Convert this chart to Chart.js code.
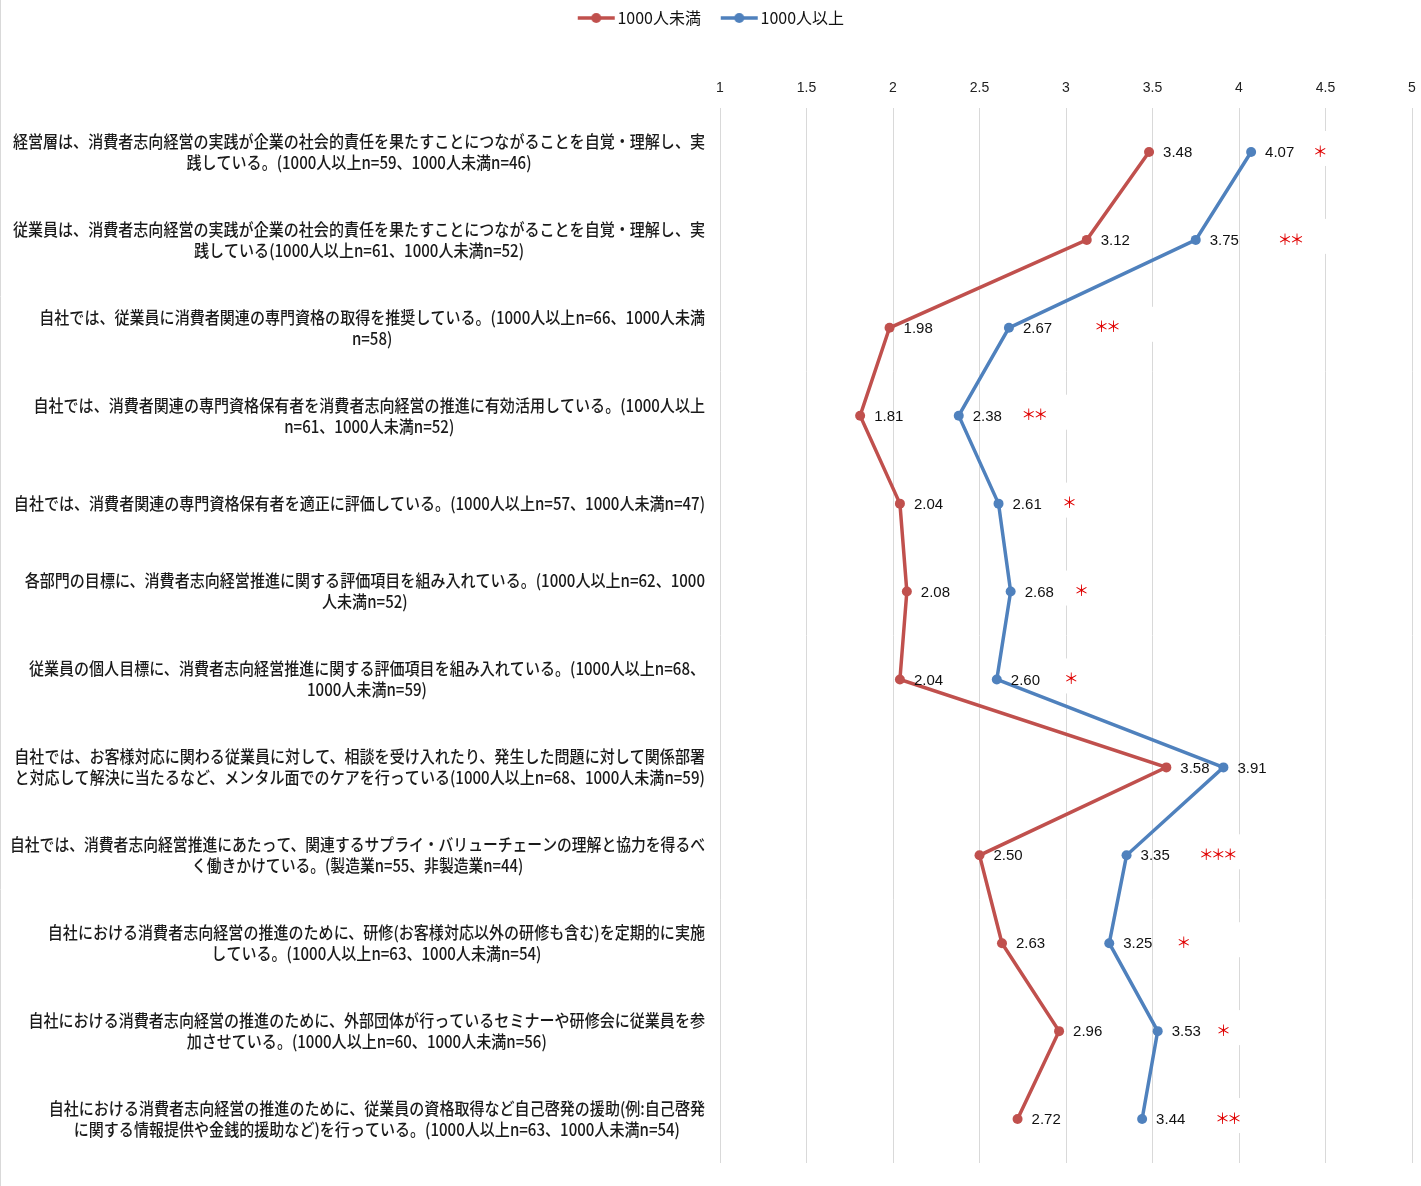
<!DOCTYPE html>
<html>
<head>
<meta charset="utf-8">
<title>消費者志向経営の取組状況（企業規模別）</title>
<script src="https://cdn.jsdelivr.net/npm/chart.js@4.4.1/dist/chart.umd.min.js"></script>
<style>
  html, body { margin: 0; padding: 0; background: #ffffff; }
  #wrap { width: 1421px; height: 1186px; position: relative; }
</style>
</head>
<body>
<div id="wrap"><canvas id="chart" width="1421" height="1186"></canvas></div>
<script>
// ---- data ----
const categories = [
  ['経営層は、消費者志向経営の実践が企業の社会的責任を果たすことにつながることを自覚・理解し、実', '践している。(1000人以上n=59、1000人未満n=46)'],
  ['従業員は、消費者志向経営の実践が企業の社会的責任を果たすことにつながることを自覚・理解し、実', '践している(1000人以上n=61、1000人未満n=52)'],
  ['自社では、従業員に消費者関連の専門資格の取得を推奨している。(1000人以上n=66、1000人未満', 'n=58)'],
  ['自社では、消費者関連の専門資格保有者を消費者志向経営の推進に有効活用している。(1000人以上', 'n=61、1000人未満n=52)'],
  ['自社では、消費者関連の専門資格保有者を適正に評価している。(1000人以上n=57、1000人未満n=47)'],
  ['各部門の目標に、消費者志向経営推進に関する評価項目を組み入れている。(1000人以上n=62、1000', '人未満n=52)'],
  ['従業員の個人目標に、消費者志向経営推進に関する評価項目を組み入れている。(1000人以上n=68、', '1000人未満n=59)'],
  ['自社では、お客様対応に関わる従業員に対して、相談を受け入れたり、発生した問題に対して関係部署', 'と対応して解決に当たるなど、メンタル面でのケアを行っている(1000人以上n=68、1000人未満n=59)'],
  ['自社では、消費者志向経営推進にあたって、関連するサプライ・バリューチェーンの理解と協力を得るべ', 'く働きかけている。(製造業n=55、非製造業n=44)'],
  ['自社における消費者志向経営の推進のために、研修(お客様対応以外の研修も含む)を定期的に実施', 'している。(1000人以上n=63、1000人未満n=54)'],
  ['自社における消費者志向経営の推進のために、外部団体が行っているセミナーや研修会に従業員を参', '加させている。(1000人以上n=60、1000人未満n=56)'],
  ['自社における消費者志向経営の推進のために、従業員の資格取得など自己啓発の援助(例:自己啓発', 'に関する情報提供や金銭的援助など)を行っている。(1000人以上n=63、1000人未満n=54)']
];
const seriesNames = ['1000人未満', '1000人以上'];
const under1000 = [3.48, 3.12, 1.98, 1.81, 2.04, 2.08, 2.04, 3.58, 2.50, 2.63, 2.96, 2.72];
const over1000  = [4.07, 3.75, 2.67, 2.38, 2.61, 2.68, 2.60, 3.91, 3.35, 3.25, 3.53, 3.44];
const xTicks = [1, 1.5, 2, 2.5, 3, 3.5, 4, 4.5, 5];
// significance of the difference between the two groups
const sigMarks = ['*', '**', '**', '**', '*', '*', '*', '', '***', '*', '*', '**'];
// where each significance mark sits, in axis units
const sigMarkAt = [4.47, 4.30, 3.24, 2.82, 3.02, 3.09, 3.03, null, 3.88, 3.68, 3.91, 3.94];

// ---- styling ----
const RED = '#C0504D';
const BLUE = '#4F81BD';
const GRID = '#d9d9d9';
const JP_FONT = '"Noto Sans CJK JP", "Noto Sans", sans-serif';
const NUM_FONT = '"Liberation Sans", Arial, sans-serif';

// legend icon: short line with a dot in the middle (drawn off-centre so the
// gap before the next entry is wider than the gap before its own text)
function legendIcon(color) {
  const c = document.createElement('canvas');
  c.width = 64; c.height = 12;
  const g = c.getContext('2d');
  g.strokeStyle = color; g.lineWidth = 3.5; g.lineCap = 'butt';
  g.beginPath(); g.moveTo(21, 6); g.lineTo(58, 6); g.stroke();
  g.fillStyle = color;
  g.beginPath(); g.arc(39.5, 6, 5, 0, Math.PI * 2); g.fill();
  return c;
}

// category labels, right-aligned block with centered lines
const rowLabels = {
  id: 'rowLabels',
  afterDraw(chart) {
    const ctx = chart.ctx, ys = chart.scales.y;
    const right = 705, maxW = 695, lh = 21;
    ctx.save();
    ctx.font = '500 17px ' + JP_FONT;
    ctx.fillStyle = '#1a1a1a';
    ctx.textBaseline = 'middle';
    ctx.textAlign = 'center';
    categories.forEach((lines, i) => {
      const cy = ys.getPixelForTick(i);
      const raw = Math.max(...lines.map(l => ctx.measureText(l).width));
      const sx = Math.min(0.885, maxW / raw);
      const w = raw * sx;
      const cx = right - w / 2;
      lines.forEach((l, k) => {
        const ly = cy + (k - (lines.length - 1) / 2) * lh;
        ctx.save();
        ctx.translate(cx, ly);
        ctx.scale(sx, 1);
        ctx.fillText(l, 0, 0);
        ctx.restore();
      });
    });
    ctx.restore();
  }
};

// value labels to the right of each point
const valueLabels = {
  id: 'valueLabels',
  afterDatasetsDraw(chart) {
    const ctx = chart.ctx;
    ctx.save();
    ctx.font = '15px ' + NUM_FONT;
    ctx.fillStyle = '#111';
    ctx.textBaseline = 'middle';
    ctx.textAlign = 'left';
    chart.data.datasets.forEach((ds, di) => {
      chart.getDatasetMeta(di).data.forEach((pt, i) => {
        ctx.fillText(ds.data[i].toFixed(2), pt.x + 14, pt.y + 1);
      });
    });
    ctx.restore();
  }
};

// significance asterisks on white text boxes
const sigLabels = {
  id: 'sigLabels',
  beforeDatasetsDraw(chart) {
    const ctx = chart.ctx, xs = chart.scales.x, ys = chart.scales.y;
    const step = 12;
    ctx.save();
    ctx.font = '15px ' + JP_FONT;
    ctx.textBaseline = 'middle';
    ctx.textAlign = 'center';
    sigMarks.forEach((m, i) => {
      if (!m || sigMarkAt[i] == null) return;
      const n = m.length;
      const cx = xs.getPixelForValue(sigMarkAt[i]);
      const cy = ys.getPixelForTick(i);
      const left = cx - (n * step) / 2;
      ctx.fillStyle = '#ffffff';
      ctx.fillRect(left - 10, cy - 21, 80, 35);
      ctx.fillStyle = '#e00000';
      for (let k = 0; k < n; k++) {
        ctx.fillText('＊', left + step * (k + 0.5), cy - 1);
      }
    });
    ctx.restore();
  }
};

// thin frame line on the left edge
const frame = {
  id: 'frame',
  beforeDraw(chart) {
    const ctx = chart.ctx;
    ctx.save();
    ctx.strokeStyle = GRID;
    ctx.lineWidth = 1;
    ctx.beginPath(); ctx.moveTo(0.5, 0); ctx.lineTo(0.5, chart.height); ctx.stroke();
    ctx.restore();
  }
};

new Chart(document.getElementById('chart'), {
  type: 'line',
  data: {
    labels: categories.map(c => c.join('')),
    datasets: [
      {
        label: seriesNames[0], data: under1000,
        borderColor: RED, backgroundColor: RED,
        borderWidth: 3.5, pointRadius: 5, pointHoverRadius: 5,
        pointBackgroundColor: RED, pointBorderColor: RED, pointBorderWidth: 0,
        tension: 0, fill: false
      },
      {
        label: seriesNames[1], data: over1000,
        borderColor: BLUE, backgroundColor: BLUE,
        borderWidth: 3.5, pointRadius: 5, pointHoverRadius: 5,
        pointBackgroundColor: BLUE, pointBorderColor: BLUE, pointBorderWidth: 0,
        tension: 0, fill: false
      }
    ]
  },
  options: {
    indexAxis: 'y',
    responsive: false,
    animation: false,
    events: [],
    layout: { padding: { left: 0, right: 9, top: 0, bottom: 23 } },
    scales: {
      x: {
        type: 'linear',
        position: 'top',
        min: 1, max: 5,
        afterBuildTicks(scale) { scale.ticks = xTicks.map(v => ({ value: v })); },
        afterFit(scale) {
          const lh = scale.chart.legend ? scale.chart.legend.height : 35;
          scale.height = 108 - lh;
          // end labels are short; keep the plot edges fixed by the layout padding
          scale.paddingLeft = 0;
          scale.paddingRight = 0;
        },
        ticks: {
          padding: 11,
          color: '#222',
          font: { family: '"Liberation Sans Narrow", "Liberation Sans", Arial, sans-serif', size: 14 },
          maxRotation: 0,
          callback: v => String(v)
        },
        grid: { color: GRID, lineWidth: 1, drawTicks: false },
        border: { display: false }
      },
      y: {
        type: 'category',
        offset: true,
        afterFit(scale) { scale.width = 720; },
        ticks: { display: false },
        grid: { display: false, drawTicks: false },
        border: { display: false }
      }
    },
    plugins: {
      tooltip: { enabled: false },
      legend: {
        position: 'top',
        labels: {
          usePointStyle: true,
          pointStyleWidth: 41.5,
          boxHeight: 12,
          padding: 10,
          color: '#111',
          font: { family: JP_FONT, size: 16 },
          generateLabels(chart) {
            return chart.data.datasets.map((ds, i) => ({
              text: ds.label,
              fillStyle: ds.borderColor,
              strokeStyle: ds.borderColor,
              lineWidth: 0,
              pointStyle: legendIcon(ds.borderColor),
              hidden: false,
              datasetIndex: i,
              fontColor: '#111'
            }));
          }
        }
      }
    }
  },
  plugins: [frame, sigLabels, valueLabels, rowLabels]
});
</script>
</body>
</html>
